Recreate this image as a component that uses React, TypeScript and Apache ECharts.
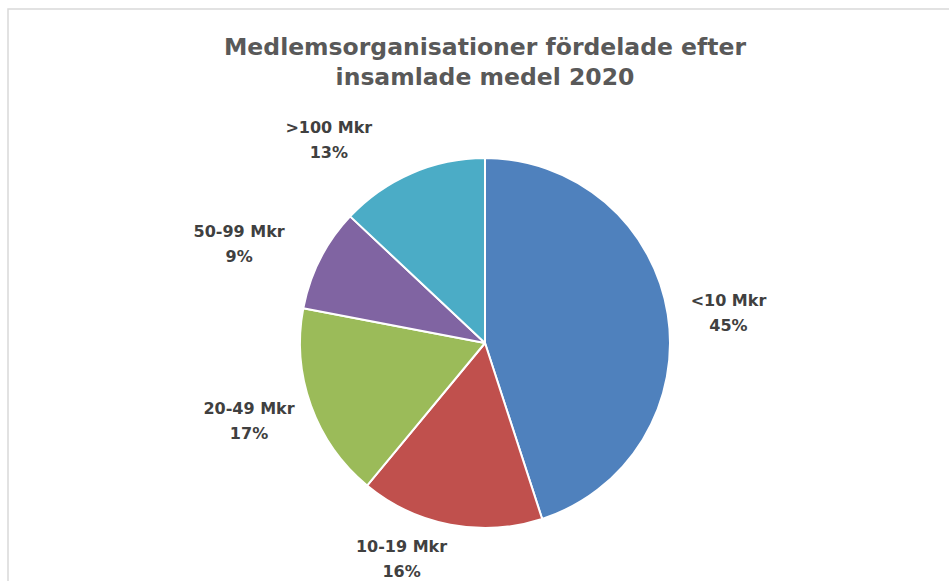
import React, { useEffect, useRef } from "react";
import * as echarts from "echarts";

const titleLines = ["Medlemsorganisationer fördelade efter", "insamlade medel 2020"];
const categories = ["<10 Mkr", "10-19 Mkr", "20-49 Mkr", "50-99 Mkr", ">100 Mkr"];
const shares = [45, 16, 17, 9, 13];
const colors = ["#4f81bd", "#c0504d", "#9bbb59", "#8064a2", "#4bacc6"];
const labelLengths = [8, 33, 15, 33, 36];
const labelLengths2 = [10, 0, 0, 5, 20];
const labelNudgeX = [0, 8, 0, 0, 0];
const labelNudgeY = [0, 4, 12, 0, 0];

export default function App() {
  const ref = useRef<HTMLDivElement>(null);
  useEffect(() => {
    if (!ref.current) return;
    const chart = echarts.init(ref.current, undefined, { renderer: "svg" });
    const font = "'DejaVu Sans', Verdana, sans-serif";
    chart.setOption({
      animation: false,
      backgroundColor: "#ffffff",
      title: {
        text: titleLines.join("\n"),
        left: 480,
        textAlign: "center",
        top: 27,
        textStyle: {
          fontFamily: font,
          fontWeight: "bold",
          fontSize: 23.5,
          lineHeight: 30,
          color: "#595959",
        },
      },
      graphic: [
        {
          type: "rect",
          shape: { x: 8, y: 9, width: 1200, height: 1000 },
          style: { fill: "none", stroke: "#d9d9d9", lineWidth: 1.5 },
          silent: true,
        },
      ],
      series: [
        {
          type: "pie",
          center: [485, 343],
          radius: [0, 185],
          startAngle: 90,
          clockwise: true,
          itemStyle: { borderColor: "#ffffff", borderWidth: 2 },
          label: {
            show: true,
            position: "outside",
            formatter: (p: any) => `${p.name}\n${p.value}%`,
            fontFamily: font,
            fontWeight: "bold",
            fontSize: 16,
            lineHeight: 25,
            color: "#404040",
          },
          labelLine: { show: false, length: 8, length2: 10 },
          labelLayout: (params: any) => {
            const w = params.labelRect.width;
            const base = params.align === "left" ? w / 2 : params.align === "right" ? -w / 2 : 0;
            return {
              align: "center",
              dx: base + (labelNudgeX[params.dataIndex] || 0),
              dy: labelNudgeY[params.dataIndex] || 0,
            };
          },
          data: categories.map((name, i) => ({
            name,
            value: shares[i],
            itemStyle: { color: colors[i] },
            labelLine: { show: false, length: labelLengths[i], length2: labelLengths2[i] },
          })),
        },
      ],
    });
    return () => chart.dispose();
  }, []);
  return (
    <div
      ref={ref}
      style={{ position: "fixed", left: 0, top: 0, width: 949, height: 581 }}
    />
  );
}
